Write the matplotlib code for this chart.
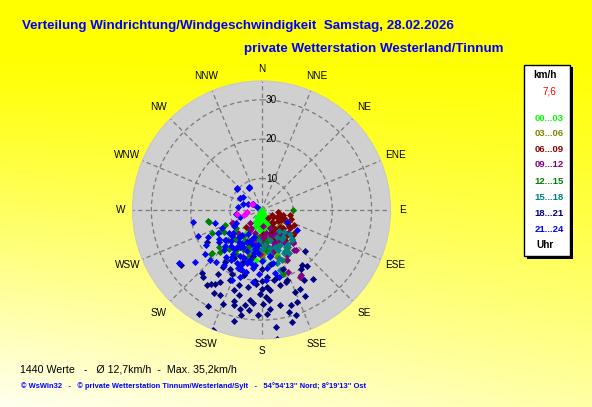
import numpy as np
import matplotlib
matplotlib.use('Agg')
import matplotlib.pyplot as plt
from matplotlib.patches import Rectangle

# --- Daten: Windrichtung (Grad) und Windgeschwindigkeit (km/h) je Tageszeit ---
dir_00_03 = [180, 207, 153, 180, 193, 162, 150, 176, 193, 151, 143, 217, 171, 185, 145,
             195, 161, 171, 213, 153, 186, 180, 210, 163, 176, 170, 190, 175, 185, 165,
             200, 158, 180]
spd_00_03 = [2.0, 2.9, 2.9, 3.7, 4.6, 4.7, 5.4, 5.8, 5.9, 6.4, 4.1, 4.1, 7.2, 7.1, 7.2,
             11.7, 13.7, 10.2, 9.1, 16.3, 14.8, 5.0, 5.4, 6.4, 8.4, 3.5, 3.5, 5.0, 6.0, 6.0,
             6.5, 7.0, 7.5]

dir_03_06 = [129, 115, 147, 155, 162, 169, 188, 204, 162, 169, 178, 207, 143, 183, 192,
             150, 165, 175, 190, 140, 195, 158, 170, 180, 148, 200]
spd_03_06 = [8.0, 8.1, 13.7, 16.1, 11.8, 8.9, 11.4, 10.4, 14.5, 12.8, 13.1, 12.5, 10.5, 10.1, 14.2,
             10.0, 9.0, 12.0, 11.0, 8.0, 13.0, 11.0, 10.0, 14.0, 12.0, 12.0]

dir_06_09 = [117, 114, 117, 139, 132, 118, 131, 137, 147, 160, 123, 141, 96, 149, 176,
             191, 222, 103, 128, 159, 142, 125, 130, 140, 120, 110, 145, 135, 100, 108,
             112, 122, 125, 135, 145, 115, 150, 105]
spd_06_09 = [4.9, 6.2, 7.7, 6.5, 8.3, 9.2, 11.0, 10.1, 9.1, 8.3, 10.6, 4.7, 6.3, 7.0, 8.0,
             8.9, 7.7, 7.5, 12.3, 10.2, 11.7, 7.0, 9.0, 6.0, 10.0, 8.0, 8.0, 11.0, 9.3, 9.8,
             6.8, 5.5, 12.0, 9.0, 10.0, 11.0, 8.0, 7.0]

dir_09_12 = [136, 141, 150, 157, 131, 245, 135, 139, 246, 209, 153, 182, 201, 170, 145,
             190, 225, 151, 149, 150, 160, 170, 180, 195, 140, 165, 185, 200, 155, 175,
             210, 221, 160, 150, 165, 175, 185, 190, 145, 170]
spd_09_12 = [13.6, 15.2, 21.6, 19.1, 11.0, 10.1, 13.5, 15.5, 10.2, 7.3, 16.3, 13.1, 14.8, 11.5, 8.7,
             9.8, 10.4, 15.2, 21.3, 9.0, 11.0, 8.0, 10.0, 8.0, 10.0, 13.0, 12.0, 11.0, 7.0, 6.0,
             8.0, 6.5, 9.0, 11.0, 12.0, 9.0, 9.0, 11.0, 12.0, 14.0]

dir_12_15 = [258, 248, 243, 229, 228, 90, 219, 215, 198, 173, 197, 161, 210, 229, 257,
             200, 215, 190, 230, 205, 180, 220, 240, 195, 170, 229, 208, 222, 235, 212,
             200, 185, 225, 245]
spd_12_15 = [15.9, 12.1, 13.7, 18.9, 13.4, 10.1, 10.8, 17.6, 10.5, 12.3, 15.3, 19.1, 14.8, 16.2, 15.7,
             12.0, 10.0, 9.0, 11.0, 13.0, 11.0, 15.0, 13.0, 14.0, 10.0, 18.7, 11.0, 12.0, 10.0, 14.0,
             10.0, 13.0, 17.0, 16.0]

dir_15_18 = [134, 141, 144, 152, 135, 146, 158, 163, 164, 170, 178, 130, 192, 210, 153,
             160, 145, 155, 165, 150, 140, 160, 170, 135, 175, 185, 162, 150, 158, 168,
             148, 172, 180, 142]
spd_15_18 = [12.7, 10.8, 13.6, 12.1, 12.8, 13.3, 15.7, 18.0, 16.1, 14.1, 14.8, 11.4, 12.4, 11.3, 14.4,
             12.0, 11.0, 12.0, 10.0, 14.0, 9.0, 15.0, 13.0, 10.0, 11.0, 10.0, 18.1, 10.0, 13.0, 12.0,
             15.0, 16.0, 12.0, 13.0]

dir_18_21 = [236, 223, 221, 216, 214, 212, 210, 206, 202, 209, 211, 202, 194, 197, 199,
             196, 192, 191, 187, 185, 182, 179, 177, 175, 175, 177, 173, 173, 169, 165,
             163, 165, 162, 159, 158, 154, 153, 149, 144, 143, 141, 204, 190, 208, 214,
             214, 210, 174, 176, 166, 161, 180, 181, 187, 195, 197, 184, 167, 240, 133,
             146, 190, 200, 180, 170, 210, 185, 175, 160, 195, 205, 200, 215, 180, 170,
             190, 160]
spd_18_21 = [26.8, 24.0, 24.6, 25.6, 24.8, 24.3, 26.4, 26.1, 27.8, 29.8, 32.9, 34.9, 31.1, 26.1, 23.6,
             27.2, 27.7, 29.1, 27.5, 25.7, 28.6, 25.8, 24.2, 24.9, 27.2, 28.4, 32.0, 35.0, 26.7, 28.8,
             27.3, 31.5, 30.2, 27.0, 24.5, 24.3, 26.4, 22.8, 19.4, 23.9, 20.2, 21.5, 26.6, 18.9, 19.4,
             21.6, 23.1, 22.5, 21.6, 21.7, 21.4, 22.0, 23.3, 25.1, 24.5, 22.0, 20.8, 19.4, 18.1, 17.1,
             20.0, 14.0, 16.0, 17.0, 16.0, 16.0, 20.0, 19.0, 18.0, 19.0, 20.0, 18.0, 18.0, 20.0, 20.0,
             22.0, 21.0]

dir_21_24 = [260, 254, 248, 243, 238, 232, 232, 237, 221, 242, 311, 330, 298, 260, 278,
             260, 288, 306, 304, 294, 253, 226, 214, 217, 198, 194, 203, 187, 176, 165,
             168, 233, 223, 229, 211, 202, 120, 187, 175, 306, 242, 231, 213, 207, 193,
             214, 182, 168, 200, 210, 190, 220, 205, 185, 215, 195, 225, 180, 235, 200,
             170, 190, 210, 240, 115, 332, 310, 299, 195, 200, 205, 210, 215, 220, 190,
             200, 212, 218, 225, 230, 185, 195, 205, 198, 188, 228, 236, 245]
spd_21_24 = [19.7, 14.4, 19.5, 17.2, 18.6, 20.3, 23.5, 26.9, 19.5, 14.6, 10.4, 8.5, 8.3, 8.5, 8.0,
             5.9, 6.9, 4.6, 3.5, 5.7, 7.8, 20.3, 18.9, 16.9, 19.9, 18.2, 21.4, 20.4, 19.9, 19.6,
             18.5, 15.4, 15.8, 13.8, 16.9, 18.0, 12.3, 16.1, 16.9, 7.8, 9.2, 11.4, 15.2, 12.5, 15.1,
             13.3, 18.2, 15.9, 10.0, 12.0, 13.0, 11.0, 15.0, 11.0, 14.0, 9.0, 13.0, 15.0, 12.0, 17.0,
             14.0, 16.0, 9.0, 10.0, 9.1, 8.6, 10.2, 8.2, 11.0, 13.0, 11.0, 13.0, 12.0, 14.0, 12.0,
             15.0, 16.0, 10.0, 15.0, 14.0, 13.0, 16.0, 17.0, 18.0, 17.0, 12.0, 15.0, 13.0]

dir_aktuell = [302, 260, 261, 303, 255]
spd_aktuell = [4.9, 8.4, 5.8, 4.8, 6.6]

gruppen = ['00...03', '03...06', '06...09', '09...12', '12...15', '15...18', '18...21', '21...24']
farben = ['#00FF00', '#808000', '#800000', '#800080', '#008000', '#008080', '#000080', '#0000FF']
richtungen = [dir_00_03, dir_03_06, dir_06_09, dir_09_12, dir_12_15, dir_15_18, dir_18_21, dir_21_24]
geschw = [spd_00_03, spd_03_06, spd_06_09, spd_09_12, spd_12_15, spd_15_18, spd_18_21, spd_21_24]

kompass = ['N', 'NNE', 'NE', 'ENE', 'E', 'ESE', 'SE', 'SSE',
           'S', 'SSW', 'SW', 'WSW', 'W', 'WNW', 'NW', 'NNW']
ringe = [10, 20, 30]

W, H = 592, 407
R_MIN, R_MAX = 2.0, 34.8


def px(x, y):
    """Pixelkoordinaten (von oben) in Figurenanteile umrechnen."""
    return x / W, 1 - y / H


fig = plt.figure(figsize=(W / 100, H / 100), dpi=100)

# Hintergrund: Verlauf von gelb nach hell
bg = fig.add_axes([0, 0, 1, 1], zorder=0)
yy, xx = np.mgrid[0:H, 0:W]
t = np.clip((yy - 55) / (H - 55), 0, 1) ** 1.1
blue = t * (0.95 - 0.3 * xx / W)
img = np.dstack([np.ones_like(blue), np.ones_like(blue), np.clip(blue, 0, 1)])
bg.imshow(img, aspect='auto', extent=[0, 1, 0, 1], origin='upper')
bg.set_axis_off()

# Polardiagramm
cx, cy, rad = 261.5, 210, 129
x0, y0 = px(cx - rad, cy + rad)
ax = fig.add_axes([x0, y0, 2 * rad / W, 2 * rad / H], projection='polar', zorder=1)
ax.set_theta_zero_location('N')
ax.set_theta_direction(-1)
ax.set_facecolor('#D0D0D0')
ax.set_ylim(R_MIN, R_MAX)
ax.spines['polar'].set_color('#C8C8C8')
ax.spines['polar'].set_linewidth(0.8)

ax.set_thetagrids(np.arange(0, 360, 22.5), labels=[''] * 16)
ax.set_rgrids(ringe, labels=[''] * len(ringe))
ax.grid(True, color='#7A7A7A', linestyle=(0, (3.5, 2.5)), linewidth=0.9)
ax.tick_params(pad=0)

for r in ringe:
    ax.annotate(str(r), xy=(0, r), xytext=(10, 0), textcoords='offset pixels',
                ha='center', va='center', fontsize=7.2, family='Liberation Sans', color='black')

for i, name in enumerate(kompass):
    ang = np.deg2rad(i * 22.5)
    r_px = 141 if i % 4 == 0 else 145
    r_lab = R_MIN + r_px / rad * (R_MAX - R_MIN)
    ax.text(ang, r_lab, name, ha='center', va='center', fontsize=7.2,
            family='Liberation Sans', color='black', clip_on=False)

for d, s, c in zip(richtungen, geschw, farben):
    ax.scatter(np.deg2rad(d), s, marker='D', s=13, color=c, linewidths=0, zorder=3)
ax.scatter(np.deg2rad(dir_aktuell), spd_aktuell, marker='D', s=13, color='#FF00FF',
           linewidths=0, zorder=4)

# Titel
fig.text(*px(22, 25.5), 'Verteilung Windrichtung/Windgeschwindigkeit  Samstag, 28.02.2026',
         ha='left', va='center', fontsize=9.65, fontweight='bold', color='#0000FF',
         family='Liberation Sans')
fig.text(*px(243.5, 49), 'private Wetterstation Westerland/Tinnum',
         ha='left', va='center', fontsize=9.65, fontweight='bold', color='#0000FF',
         family='Liberation Sans')

# Legende
lx0, ly0, lx1, ly1 = 524, 65, 570, 256
sx, sy = px(lx0 + 2.5, ly1 + 2.5)
fig.add_artist(Rectangle((sx, sy), (lx1 - lx0) / W, (ly1 - ly0) / H,
                         transform=fig.transFigure, facecolor='black', edgecolor='none', zorder=2))
bx, by = px(lx0, ly1)
fig.add_artist(Rectangle((bx, by), (lx1 - lx0) / W, (ly1 - ly0) / H,
                         transform=fig.transFigure, facecolor='white', edgecolor='black',
                         linewidth=1, zorder=3))

fig.text(*px(545, 75), 'km/h', ha='center', va='center', fontsize=7.2, fontweight='bold',
         color='black', family='Liberation Sans', zorder=4)
fig.text(*px(549, 92), '7,6', ha='center', va='center', fontsize=7.2,
         color='red', family='Liberation Sans', zorder=4)
label_y = [118.5, 133.5, 149, 164.5, 182, 197.5, 213.5, 230]
for name, col, yl in zip(gruppen, farben, label_y):
    fig.text(*px(549, yl), name, ha='center', va='center', fontsize=6.8, fontweight='bold',
             color=col, family='Liberation Sans', zorder=4)
fig.text(*px(545, 245.5), 'Uhr', ha='center', va='center', fontsize=7.2, fontweight='bold',
         color='black', family='Liberation Sans', zorder=4)

# Fußzeilen
fig.text(*px(20, 369.5), '1440 Werte   -   Ø 12,7km/h  -  Max. 35,2km/h',
         ha='left', va='center', fontsize=7.7, color='black', family='Liberation Sans')
fig.text(*px(21, 386), "© WsWin32   -   © private Wetterstation Tinnum/Westerland/Sylt   -   "
         "54°54'13'' Nord; 8°19'13'' Ost",
         ha='left', va='center', fontsize=5.45, fontweight='bold', color='#0000FF',
         family='Liberation Sans')

fig.savefig('out.png', dpi=100)
